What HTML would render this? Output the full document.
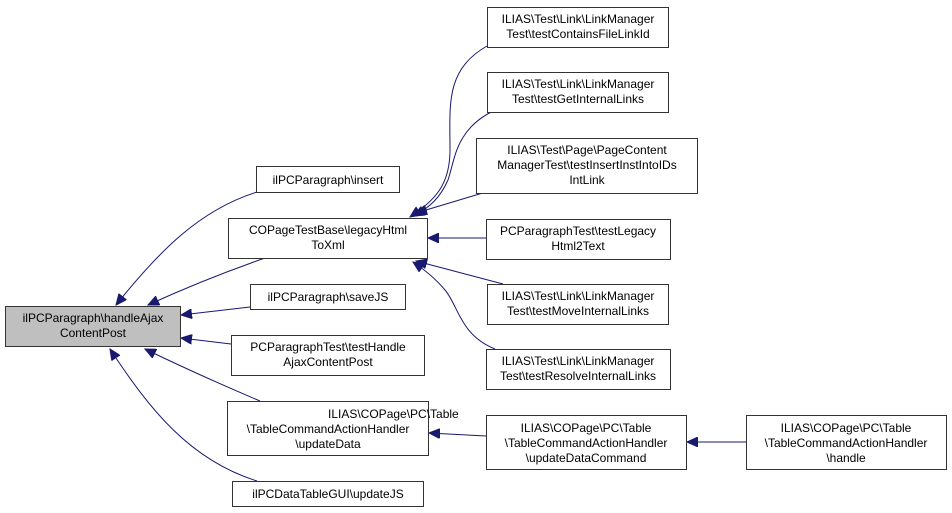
<!DOCTYPE html>
<html><head><meta charset="utf-8"><style>
html,body{margin:0;padding:0;background:#fff;}
svg{display:block;}
text{font-family:"Liberation Sans",Arial,sans-serif;font-size:12px;fill:#000;}
</style></head><body>
<svg width="952" height="513" viewBox="0 0 952 513" xmlns="http://www.w3.org/2000/svg">
<defs>
<marker id="a" markerWidth="12" markerHeight="10" refX="11" refY="5" orient="auto" markerUnits="userSpaceOnUse">
<path d="M0,0 L11,5 L0,10 Z" fill="#191970" stroke="#191970"/>
</marker>
</defs>
<g fill="none" stroke="#191970" stroke-width="1" marker-end="url(#a)">
<path d="M257,192 C200,210 160,250 116,305"/>
<path d="M265,258 C225,272 185,288 148,305"/>
<path d="M250,307 L181,315"/>
<path d="M231,344 L181,338"/>
<path d="M260,401 C220,384 180,366 145,349"/>
<path d="M257,481 C190,460 150,410 110,349"/>
<path d="M487,46 C445,70 450,105 450,150 C450,185 435,200 410,217"/>
<path d="M493,111 C455,130 455,160 448,180 C440,198 430,207 414,216"/>
<path d="M486,192 L416,213"/>
<path d="M486,238 L428,238"/>
<path d="M503,284 L416,261"/>
<path d="M495,349 C460,335 458,305 445,290 C435,278 425,270 413,262"/>
<path d="M486,436 L429,433"/>
<path d="M746,442 L687,442"/>
</g>
<g stroke="#333" stroke-width="1">
<rect x="5.5" y="306.5" width="175" height="40" fill="#bfbfbf"/>
<rect x="256.5" y="166.5" width="143" height="26" fill="#fff"/>
<rect x="228.5" y="218.5" width="199" height="40" fill="#fff"/>
<rect x="250.5" y="284.5" width="155" height="25" fill="#fff"/>
<rect x="231.5" y="335.5" width="193" height="40" fill="#fff"/>
<rect x="227.5" y="401.5" width="201" height="54" fill="#fff"/>
<rect x="232.5" y="481.5" width="191" height="25" fill="#fff"/>
<rect x="487.5" y="7.5" width="181" height="40" fill="#fff"/>
<rect x="487.5" y="72.5" width="181" height="40" fill="#fff"/>
<rect x="476.5" y="138.5" width="221" height="55" fill="#fff"/>
<rect x="486.5" y="219.5" width="184" height="40" fill="#fff"/>
<rect x="487.5" y="284.5" width="181" height="40" fill="#fff"/>
<rect x="486.5" y="349.5" width="184" height="40" fill="#fff"/>
<rect x="486.5" y="415.5" width="200" height="54" fill="#fff"/>
<rect x="746.5" y="415.5" width="200" height="54" fill="#fff"/>
</g>
<g text-anchor="middle">
<text x="93" y="322">ilPCParagraph\handleAjax</text>
<text x="93" y="337">ContentPost</text>
<text x="328" y="184">ilPCParagraph\insert</text>
<text x="328" y="234">COPageTestBase\legacyHtml</text>
<text x="328" y="249">ToXml</text>
<text x="328" y="301">ilPCParagraph\saveJS</text>
<text x="328" y="351">PCParagraphTest\testHandle</text>
<text x="328" y="366">AjaxContentPost</text>
<text x="328" y="418" text-anchor="start" x2="0">ILIAS\COPage\PC\Table</text>
<text x="328" y="433">\TableCommandActionHandler</text>
<text x="328" y="448">\updateData</text>
<text x="328" y="498">ilPCDataTableGUI\updateJS</text>
<text x="578" y="23">ILIAS\Test\Link\LinkManager</text>
<text x="578" y="38">Test\testContainsFileLinkId</text>
<text x="578" y="88">ILIAS\Test\Link\LinkManager</text>
<text x="578" y="103">Test\testGetInternalLinks</text>
<text x="587" y="154">ILIAS\Test\Page\PageContent</text>
<text x="587" y="169">ManagerTest\testInsertInstIntoIDs</text>
<text x="587" y="184">IntLink</text>
<text x="578" y="235">PCParagraphTest\testLegacy</text>
<text x="578" y="250">Html2Text</text>
<text x="578" y="300">ILIAS\Test\Link\LinkManager</text>
<text x="578" y="315">Test\testMoveInternalLinks</text>
<text x="578" y="365">ILIAS\Test\Link\LinkManager</text>
<text x="578" y="380">Test\testResolveInternalLinks</text>
<text x="586" y="432">ILIAS\COPage\PC\Table</text>
<text x="586" y="447">\TableCommandActionHandler</text>
<text x="586" y="462">\updateDataCommand</text>
<text x="846" y="432">ILIAS\COPage\PC\Table</text>
<text x="846" y="447">\TableCommandActionHandler</text>
<text x="846" y="462">\handle</text>
</g>
</svg>
</body></html>
